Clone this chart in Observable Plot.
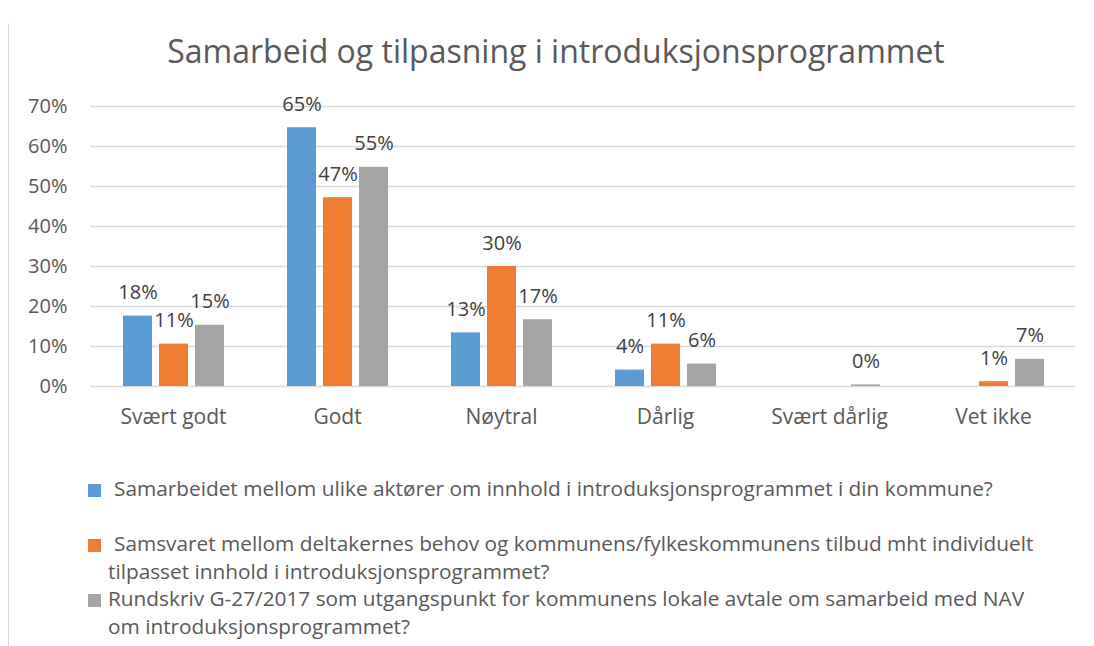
<!DOCTYPE html>
<html>
<head>
<meta charset="utf-8">
<script src="https://cdn.jsdelivr.net/npm/d3@7"></script>
<script src="https://cdn.jsdelivr.net/npm/@observablehq/plot@0.6"></script>
<style>
  html, body { margin: 0; padding: 0; background: #fff; }
  body { width: 1094px; height: 646px; position: relative; overflow: hidden; font-family: "Open Sans", sans-serif; }
  #border { position: absolute; left: 8px; top: 23px; width: 1px; height: 640px; background: #d9d9d9; }
  #title { position: absolute; left: 0; width: 1112px; top: 34.6px; text-align: center; font-size: 32px; line-height: 32px; color: #595959; white-space: nowrap; }
  #grid, #chart { position: absolute; left: 0; top: 85px; }
  .item { position: absolute; left: 88px; width: 960px; font-size: 20.8px; line-height: 27.5px; color: #595959; }
  .sw { position: absolute; left: 0; top: 9px; width: 13px; height: 13px; }
  .txt { margin-left: 20px; }
</style>
</head>
<body>
<div id="border"></div>
<div id="title"></div>
<div id="grid"></div>
<div id="chart"></div>
<div id="legend"></div>
<script>
const title = "Samarbeid og tilpasning i introduksjonsprogrammet";
const categories = ["Svært godt", "Godt", "Nøytral", "Dårlig", "Svært dårlig", "Vet ikke"];
const seriesNames = [
  "Samarbeidet mellom ulike aktører om innhold i introduksjonsprogrammet i din kommune?",
  "Samsvaret mellom deltakernes behov og kommunens/fylkeskommunens tilbud mht individuelt tilpasset innhold i introduksjonsprogrammet?",
  "Rundskriv G-27/2017 som utgangspunkt for kommunens lokale avtale om samarbeid med NAV om introduksjonsprogrammet?"
];
const blueValues   = [17.6, 64.7, 13.4, 4.1, null, null];
const orangeValues = [10.6, 47.2, 30.0, 10.6, null, 1.2];
const grayValues   = [15.3, 54.8, 16.7, 5.6, 0.4, 6.8];
const yTicks = [0, 10, 20, 30, 40, 50, 60, 70];
const colors = ["#5B9BD5", "#ED7D31", "#A5A5A5"];

const seriesValues = [blueValues, orangeValues, grayValues];
const rows = [];
seriesValues.forEach((vals, si) => {
  vals.forEach((v, ci) => {
    if (v !== null) rows.push({cat: categories[ci], series: seriesNames[si], value: v});
  });
});

document.getElementById("title").textContent = title;

const frame = {width: 1094, height: 360, marginTop: 21, marginBottom: 59, marginLeft: 90, marginRight: 19};

// Background: value axis and gridlines over the full plot width
const grid = Plot.plot({
  ...frame,
  style: {fontFamily: "Open Sans", background: "transparent", color: "#595959"},
  y: {domain: [0, 70]},
  marks: [
    Plot.ruleY(yTicks, {stroke: "#d9d9d9", strokeWidth: 1.3}),
    Plot.axisY({ticks: yTicks, tickFormat: d => d + "%", tickSize: 0, tickPadding: 23, fontSize: 20, fill: "#595959", label: null})
  ]
});
document.getElementById("grid").appendChild(grid);

// Foreground: grouped bars faceted by category
const chart = Plot.plot({
  ...frame,
  style: {fontFamily: "Open Sans", background: "transparent", color: "#595959"},
  fx: {domain: categories, paddingInner: 0.38, paddingOuter: 0.19, label: null},
  x: {domain: seriesNames, paddingInner: 0.2, paddingOuter: 0, axis: null},
  y: {domain: [0, 70], axis: null},
  color: {domain: seriesNames, range: colors},
  marks: [
    Plot.axisFx({anchor: "bottom", tickSize: 0, tickPadding: 23, fontSize: 21, fill: "#595959", label: null}),
    Plot.barY(rows, {fx: "cat", x: "series", y: "value", fill: "series"}),
    Plot.text(rows, {fx: "cat", x: "series", y: "value", text: d => Math.round(d.value) + "%", dy: -17, lineAnchor: "bottom", fontSize: 20, fill: "#404040"})
  ]
});
document.getElementById("chart").appendChild(chart);

const legendTops = [475, 530, 585];
const indents = [6, 6, 0];
const legend = document.getElementById("legend");
seriesNames.forEach((name, i) => {
  const item = document.createElement("div");
  item.className = "item";
  item.style.top = legendTops[i] + "px";
  const sw = document.createElement("div");
  sw.className = "sw";
  sw.style.background = colors[i];
  const txt = document.createElement("div");
  txt.className = "txt";
  txt.style.textIndent = indents[i] + "px";
  txt.textContent = name;
  item.appendChild(sw);
  item.appendChild(txt);
  legend.appendChild(item);
});
</script>
</body>
</html>
